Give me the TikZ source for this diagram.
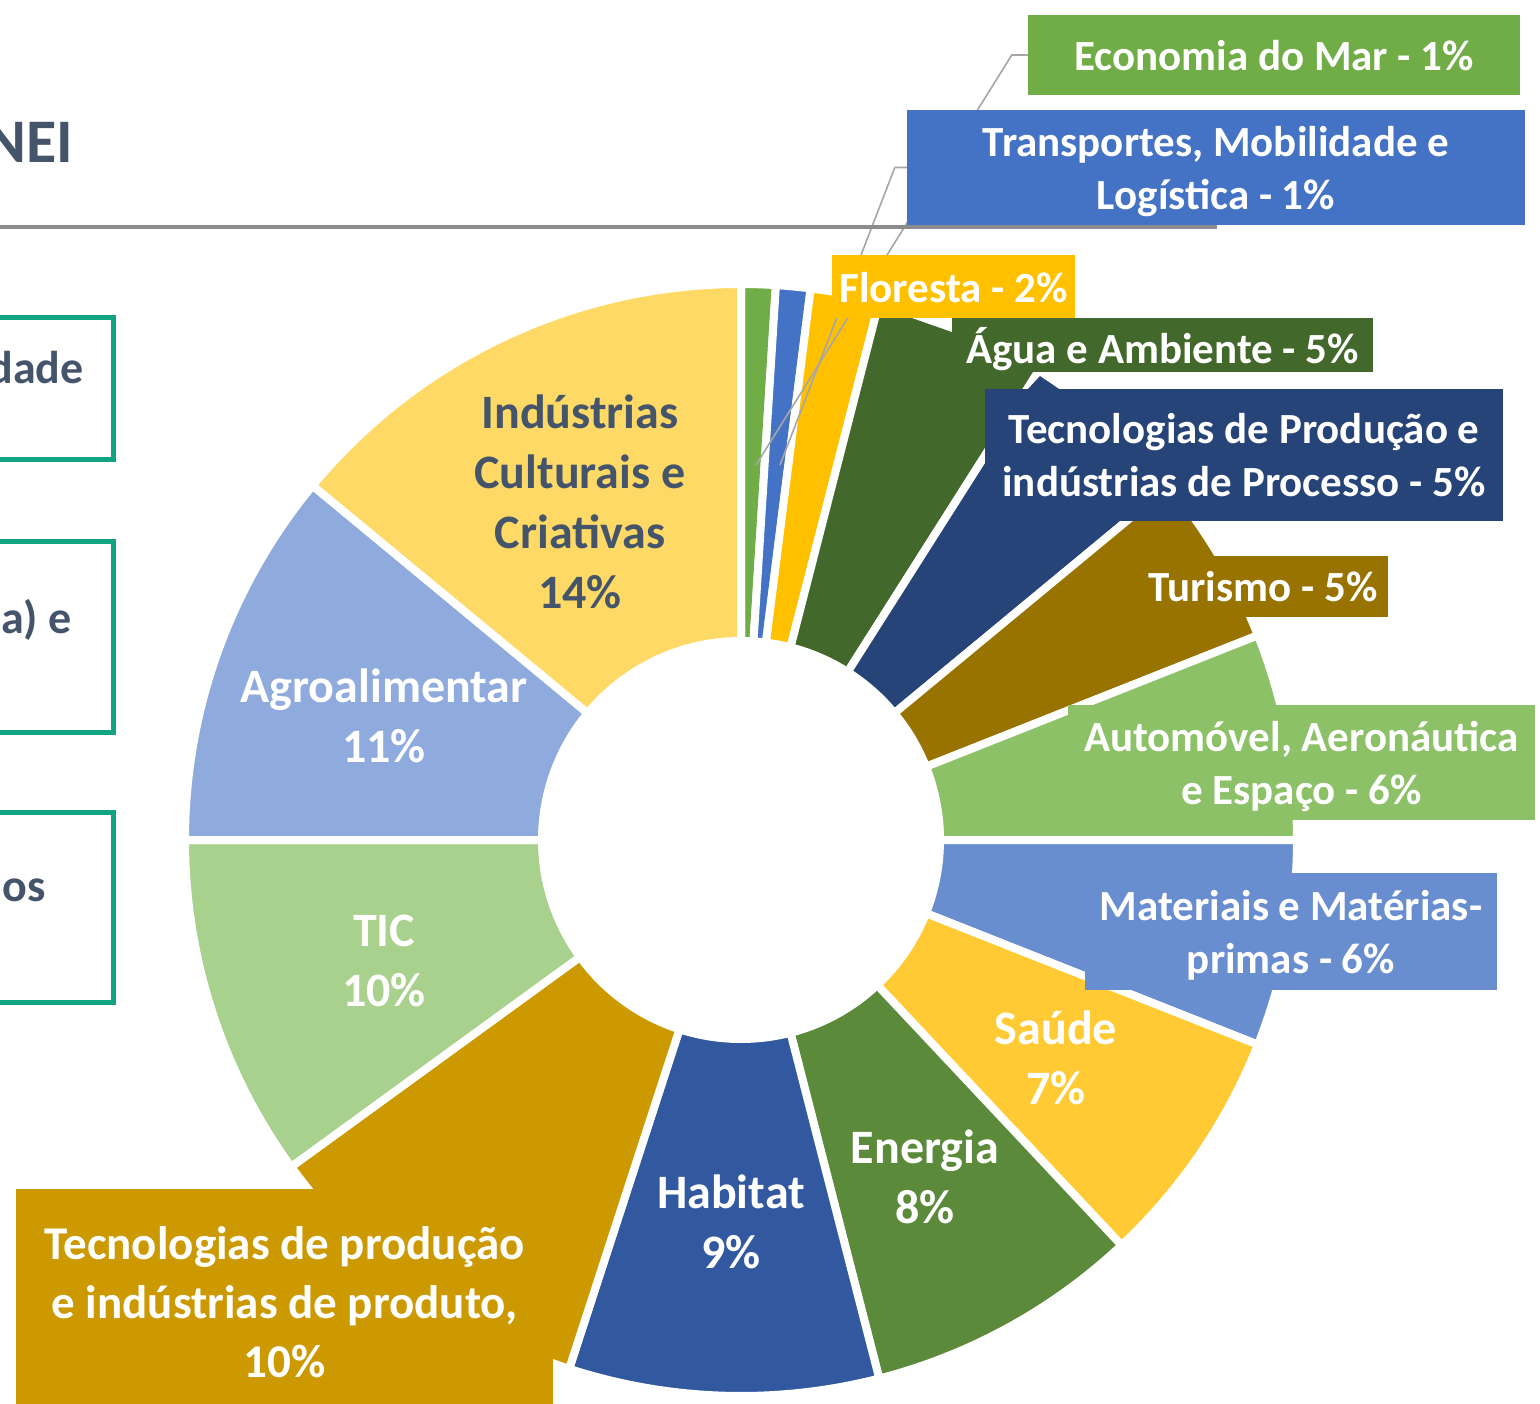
\documentclass[tikz,border=0pt]{standalone}
\usepackage{fontspec}
\setmainfont{Carlito}
\usepackage{tikz}
\usetikzlibrary{positioning, calc}
\definecolor{ecoGreen}{HTML}{70AD47}
\definecolor{transBlue}{HTML}{4472C4}
\definecolor{florGold}{HTML}{FFC000}
\definecolor{aguaGreen}{HTML}{43682B}
\definecolor{procNavy}{HTML}{264478}
\definecolor{turBrown}{HTML}{997300}
\definecolor{autoGreen}{HTML}{8CC168}
\definecolor{matBlue}{HTML}{698ED0}
\definecolor{saudeGold}{HTML}{FFCA33}
\definecolor{enerGreen}{HTML}{5A8A3A}
\definecolor{habBlue}{HTML}{3259A0}
\definecolor{prodGold}{HTML}{CC9A00}
\definecolor{ticGreen}{HTML}{A9D18E}
\definecolor{agroBlue}{HTML}{8FAADC}
\definecolor{indYellow}{HTML}{FFD966}
\definecolor{slateText}{HTML}{44546A}
\definecolor{frameTeal}{HTML}{12A383}
\definecolor{leadGray}{HTML}{A6A6A6}
\definecolor{ruleGray}{HTML}{8C8C8C}
\newcommand{\calloutfont}{\fontsize{43}{53}\selectfont\bfseries}
\newcommand{\slicefont}{\fontsize{48}{60}\selectfont\bfseries}
\newcommand{\prodfont}{\fontsize{47}{59}\selectfont\bfseries}
\newcommand{\headfont}{\fontsize{62}{70}\selectfont\bfseries}
\newcommand{\sidefont}{\fontsize{46}{56}\selectfont\bfseries}
\pgfdeclarelayer{back}
\pgfdeclarelayer{mid}
\pgfsetlayers{back,mid,main}

\begin{document}
\begin{tikzpicture}[
    x=1pt, y=-1pt,
    callout/.style={rectangle, inner sep=0pt, align=center, text depth=0pt, text=white, font=\calloutfont},
    slicelabel/.style={align=center, text=white, font=\slicefont},
    leader/.style={draw=leadGray, line width=1.6pt},
    frame/.style={draw=frameTeal, line width=5pt},
    sidetext/.style={text=slateText, font=\sidefont, inner sep=0pt}
]
    \useasboundingbox (0,0) rectangle (1540,1404);

    % Slide remains on the left
    \node[sidetext, font=\headfont, anchor=base east] (head) at (73,163) {NEI};
    \draw[ruleGray, line width=4pt] (-10,227) -- (1217,227);
    \draw[frame] (-40,318) rectangle (113,460);
    \draw[frame] (-40,541) rectangle (113,732);
    \draw[frame] (-40,812) rectangle (113,1002);
    \node[sidetext, anchor=base east] (side1) at (84,384) {dade};
    \node[sidetext, anchor=base east] (side2) at (72,633) {a) e};
    \node[sidetext, anchor=base east] (side3) at (46,901) {os};

    % Ring
    \begin{pgfonlayer}{back}
    \begin{scope}[shift={(741,840)}]
        \foreach \a/\b/\c in {-90/-86.4/ecoGreen, -86.4/-82.8/transBlue, -82.8/-75.6/florGold,
                              -75.6/-57.6/aguaGreen, -57.6/-39.6/procNavy, -39.6/-21.6/turBrown,
                              -21.6/0/autoGreen, 0/21.6/matBlue, 21.6/46.8/saudeGold,
                              46.8/75.6/enerGreen, 75.6/108/habBlue, 108/144/prodGold,
                              144/180/ticGreen, 180/219.6/agroBlue, 219.6/270/indYellow}
            \filldraw[fill=\c, draw=white, line width=8pt]
                (\a:199) arc[start angle=\a, end angle=\b, radius=199]
                -- (\b:556) arc[start angle=\b, end angle=\a, radius=556] -- cycle;
    \end{scope}
    \end{pgfonlayer}

    % Callout pointers
    \fill[white] (912,318) -- (952,318) -- (952,332) -- cycle;
    \fill[procNavy] (1028,389) -- (1040,376) -- (1052,389) -- cycle;

    % Callouts
    \node[callout, fill=ecoGreen, minimum width=492pt, minimum height=80pt] (eco) at (1274,55) {Economia do Mar - 1\%};
    \node[callout, fill=transBlue, minimum width=618pt, minimum height=115pt] (trans) at (1216,167.5) {Transportes, Mobilidade e\\Logística - 1\%};
    \node[callout, fill=florGold, minimum width=243pt, minimum height=63pt] (flor) at (953.5,287) {Floresta - 2\%};
    \node[callout, fill=aguaGreen, minimum width=421pt, minimum height=54pt] (agua) at (1162.5,345) {Água e Ambiente - 5\%};
    \node[callout, fill=procNavy, minimum width=518pt, minimum height=132pt] (proc) at (1244,455) {Tecnologias de Produção e\\indústrias de Processo - 5\%};
    \node[callout, fill=turBrown, minimum width=250pt, minimum height=61pt] (tur) at (1263,586) {Turismo - 5\%};
    \node[callout, fill=autoGreen, minimum width=467pt, minimum height=115pt] (auto) at (1301.5,762.5) {Automóvel, Aeronáutica\\e Espaço - 6\%};
    \node[callout, fill=matBlue, minimum width=412pt, minimum height=117pt] (mat) at (1291,931.5) {Materiais e Matérias-\\primas - 6\%};
    \node[callout, fill=prodGold, font=\prodfont, minimum width=537pt, minimum height=226pt] (prod) at (284.5,1302) {Tecnologias de produção\\e indústrias de produto,\\10\%};

    % Leaders
    \coordinate (ecotip) at (756,465);
    \coordinate (transtip) at (780,465);
    \begin{pgfonlayer}{mid}
        \draw[leader] (eco.west) -- ++(-16,0) -- (ecotip);
        \draw[leader] (trans.west) -- ++(-12,0) -- (transtip);
    \end{pgfonlayer}

    % Labels inside the ring
    \node[slicelabel, text=slateText] (ind) at (580,502) {Indústrias\\Culturais e\\Criativas\\14\%};
    \node[slicelabel] (agro) at (384,716) {Agroalimentar\\11\%};
    \node[slicelabel] (tic) at (384,961) {TIC\\10\%};
    \node[slicelabel] (hab) at (731,1222) {Habitat\\9\%};
    \node[slicelabel] (ener) at (925,1177) {Energia\\8\%};
    \node[slicelabel] (saude) at (1056,1058) {Saúde\\7\%};
\end{tikzpicture}
\end{document}
